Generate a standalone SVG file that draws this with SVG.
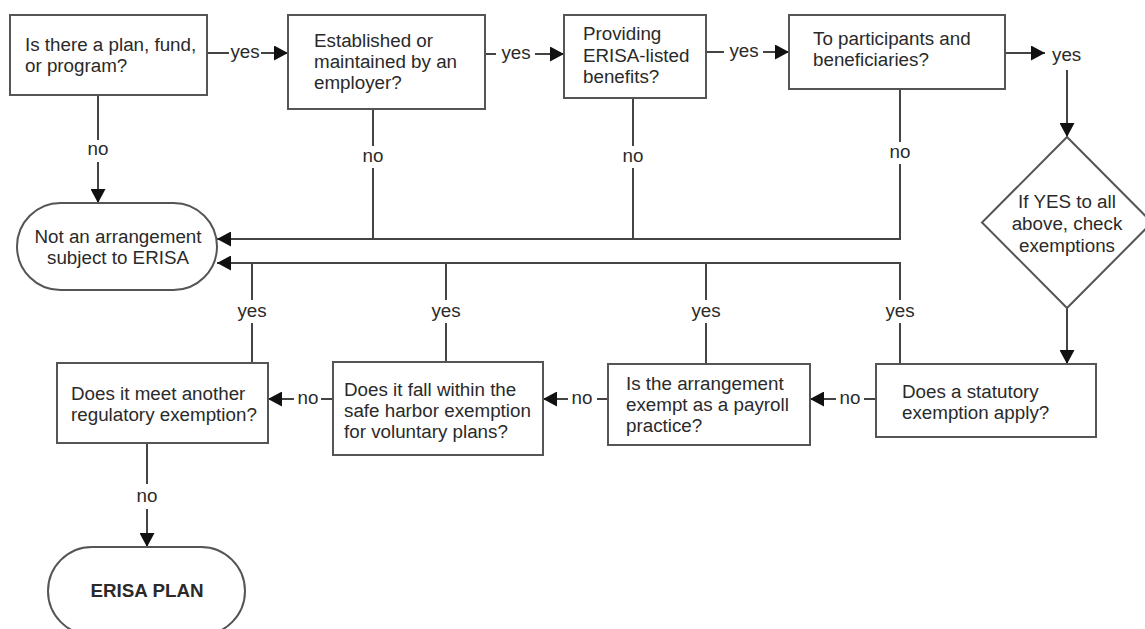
<svg xmlns="http://www.w3.org/2000/svg" width="1145" height="629" viewBox="0 0 1145 629">
<defs>
<style>
.box{fill:#fff;stroke:#555;stroke-width:2}
.t{font-family:"Liberation Sans",Arial,sans-serif;font-size:18.8px;fill:#2a2a2a}
.c{text-anchor:middle}
.b{font-weight:bold}
.ln{fill:none;stroke:#444;stroke-width:2}
</style>
<marker id="ah" markerWidth="15" markerHeight="15" refX="14" refY="7.5" orient="auto" markerUnits="userSpaceOnUse">
<path d="M0,0 L14,7.5 L0,15 z" fill="#111"/>
</marker>
</defs>
<rect width="1145" height="629" fill="#fff"/>

<g id="connectors">
<path class="ln" d="M207,53 H229"/>
<text class="t c" x="245" y="58">yes</text>
<path class="ln" d="M261,53 H288" marker-end="url(#ah)"/>

<path class="ln" d="M485,54 H496"/>
<text class="t c" x="516" y="59">yes</text>
<path class="ln" d="M535,54 H564" marker-end="url(#ah)"/>

<path class="ln" d="M706,52 H724"/>
<text class="t c" x="744" y="57">yes</text>
<path class="ln" d="M763,52 H789" marker-end="url(#ah)"/>

<path class="ln" d="M1005,53 H1045" marker-end="url(#ah)"/>
<text class="t" x="1052" y="61">yes</text>
<path class="ln" d="M1067,70 V137" marker-end="url(#ah)"/>
<path class="ln" d="M1067,308 V364" marker-end="url(#ah)"/>

<path class="ln" d="M98,95 V140"/>
<text class="t c" x="98" y="155">no</text>
<path class="ln" d="M98,162 V203" marker-end="url(#ah)"/>

<path class="ln" d="M373,109 V146"/>
<text class="t c" x="373" y="162">no</text>
<path class="ln" d="M373,168 V239"/>

<path class="ln" d="M633,98 V146"/>
<text class="t c" x="633" y="162">no</text>
<path class="ln" d="M633,168 V239"/>

<path class="ln" d="M900,89 V142"/>
<text class="t c" x="900" y="158">no</text>
<path class="ln" d="M900,164 V239 H217" marker-end="url(#ah)"/>

<path class="ln" d="M900,300 V263 H217" marker-end="url(#ah)"/>
<path class="ln" d="M252,263 V300"/>
<path class="ln" d="M446,263 V300"/>
<path class="ln" d="M706,263 V300"/>
<text class="t c" x="252" y="317">yes</text>
<text class="t c" x="446" y="317">yes</text>
<text class="t c" x="706" y="317">yes</text>
<text class="t c" x="900" y="317">yes</text>
<path class="ln" d="M252,323 V363"/>
<path class="ln" d="M446,323 V362"/>
<path class="ln" d="M706,323 V364"/>
<path class="ln" d="M900,323 V364"/>

<path class="ln" d="M876,399 H864"/>
<text class="t c" x="850" y="404">no</text>
<path class="ln" d="M836,399 H810" marker-end="url(#ah)"/>

<path class="ln" d="M608,399 H597"/>
<text class="t c" x="582" y="404">no</text>
<path class="ln" d="M568,399 H543" marker-end="url(#ah)"/>

<path class="ln" d="M333,399 H321"/>
<text class="t c" x="308" y="404">no</text>
<path class="ln" d="M294,399 H268" marker-end="url(#ah)"/>

<path class="ln" d="M147,443 V484"/>
<text class="t c" x="147" y="502">no</text>
<path class="ln" d="M147,509 V547" marker-end="url(#ah)"/>
</g>

<g id="n1">
<rect class="box" x="10" y="15" width="197" height="80"/>
<text class="t" x="25" y="51">Is there a plan, fund,</text>
<text class="t" x="25" y="72">or program?</text>
</g>
<g id="n2">
<rect class="box" x="288" y="15" width="197" height="94"/>
<text class="t" x="314" y="47">Established or</text>
<text class="t" x="314" y="68">maintained by an</text>
<text class="t" x="314" y="89">employer?</text>
</g>
<g id="n3">
<rect class="box" x="564" y="15" width="142" height="83"/>
<text class="t" x="583" y="40">Providing</text>
<text class="t" x="583" y="61.5">ERISA-listed</text>
<text class="t" x="583" y="83">benefits?</text>
</g>
<g id="n4">
<rect class="box" x="789" y="15" width="216" height="74"/>
<text class="t" x="813" y="45">To participants and</text>
<text class="t" x="813" y="66">beneficiaries?</text>
</g>
<g id="n5">
<polygon class="box" points="1067,137 1152,222.5 1067,308 982,222.5"/>
<text class="t c" x="1067" y="208">If YES to all</text>
<text class="t c" x="1067" y="230">above, check</text>
<text class="t c" x="1067" y="252">exemptions</text>
</g>
<g id="n6">
<rect class="box" x="17" y="203" width="200" height="87" rx="43.5"/>
<text class="t c" x="118" y="243">Not an arrangement</text>
<text class="t c" x="118" y="264">subject to ERISA</text>
</g>
<g id="n7">
<rect class="box" x="876" y="364" width="220" height="73"/>
<text class="t" x="902" y="398">Does a statutory</text>
<text class="t" x="902" y="419">exemption apply?</text>
</g>
<g id="n8">
<rect class="box" x="608" y="364" width="202" height="81"/>
<text class="t" x="626" y="390">Is the arrangement</text>
<text class="t" x="626" y="411">exempt as a payroll</text>
<text class="t" x="626" y="432">practice?</text>
</g>
<g id="n9">
<rect class="box" x="333" y="362" width="210" height="93"/>
<text class="t" x="344" y="396">Does it fall within the</text>
<text class="t" x="344" y="417">safe harbor exemption</text>
<text class="t" x="344" y="438">for voluntary plans?</text>
</g>
<g id="n10">
<rect class="box" x="57" y="363" width="211" height="80"/>
<text class="t" x="71" y="400">Does it meet another</text>
<text class="t" x="71" y="421">regulatory exemption?</text>
</g>
<g id="n11">
<rect class="box" x="48" y="547" width="197" height="88" rx="44"/>
<text class="t c b" x="147" y="597">ERISA PLAN</text>
</g>
</svg>
